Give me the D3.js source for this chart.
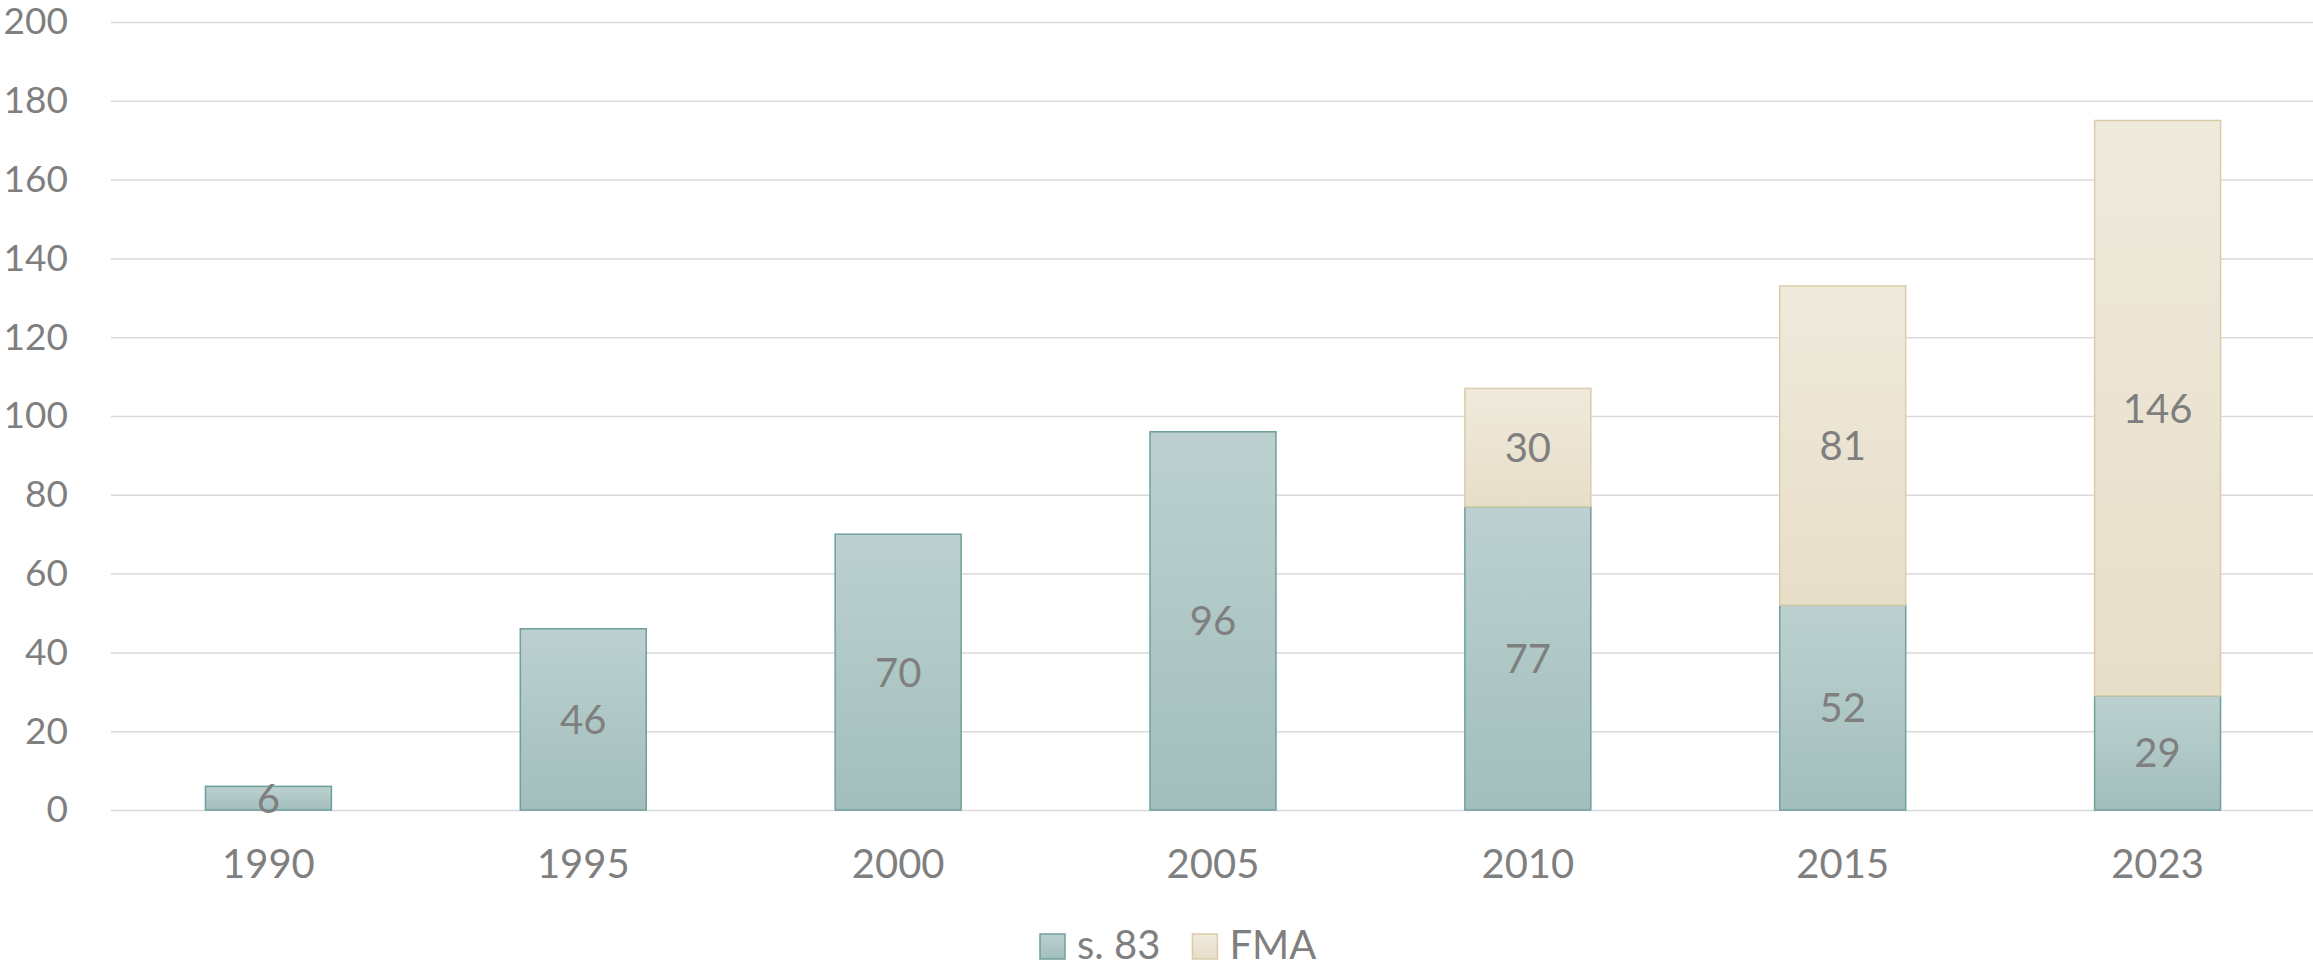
<!DOCTYPE html>
<html>
<head>
<meta charset="utf-8">
<script src="https://cdn.jsdelivr.net/npm/d3@7"></script>
<style>
  body { margin: 0; background: #fff; }
  text { font-family: Lato, "Open Sans", sans-serif; fill: #7f7f7f; }
</style>
</head>
<body>
<svg id="chart" width="2313" height="965"></svg>
<script>
const years = ['1990', '1995', '2000', '2005', '2010', '2015', '2023'];
const s83 = [6, 46, 70, 96, 77, 52, 29];
const fma = [0, 0, 0, 0, 30, 81, 146];
const yTicks = [0, 20, 40, 60, 80, 100, 120, 140, 160, 180, 200];
const seriesNames = ['s. 83', 'FMA'];

const svg = d3.select('#chart');
let margins = { 'left': 111, 'top': 22, 'bottom': 155, 'right': -2 };
let chartWidth = svg.attr('width') - margins.left - margins.right;
let chartHeight = svg.attr('height') - margins.top - margins.bottom;

const x = d3.scaleBand().domain(years).range([0, chartWidth]).paddingInner(0.6).paddingOuter(0.3);
const y = d3.scaleLinear().domain([0, 200]).range([chartHeight, 0]);

// gradients, one per series
const defs = svg.append('defs');
const fills = [
  { id: 'gS83', top: '#bcd1cf', bottom: '#a2bebd', stroke: '#6f9f9d' },
  { id: 'gFMA', top: '#f0eadd', bottom: '#e7dec8', stroke: '#d9cca8' }
];
fills.forEach(f => {
  let g = defs.append('linearGradient').attr('id', f.id)
    .attr('x1', 0).attr('y1', 0).attr('x2', 0).attr('y2', 1);
  g.append('stop').attr('offset', '0%').attr('stop-color', f.top);
  g.append('stop').attr('offset', '100%').attr('stop-color', f.bottom);
});

let chartArea = svg.append('g').attr('transform', `translate(${margins.left},${margins.top})`);

// gridlines
chartArea.append('g')
  .call(d3.axisLeft(y).tickValues(yTicks).tickSize(-chartWidth).tickFormat(''))
  .call(g => g.select('.domain').remove())
  .call(g => g.selectAll('line').attr('stroke', '#d9d9d9').attr('stroke-width', 1.5));

// y labels
chartArea.append('g')
  .call(d3.axisLeft(y).tickValues(yTicks).tickSize(0).tickPadding(43))
  .call(g => g.select('.domain').remove())
  .call(g => g.selectAll('text').style('font-size', '37px').attr('fill', '#7f7f7f'));

// x labels
chartArea.append('g')
  .attr('transform', `translate(0,${chartHeight})`)
  .call(d3.axisBottom(x).tickSize(0).tickPadding(40))
  .call(g => g.select('.domain').remove())
  .call(g => g.selectAll('text').style('font-size', '40px').attr('fill', '#7f7f7f'));

// stacked bars
const table = years.map((yr, i) => ({ year: yr, 's. 83': s83[i], 'FMA': fma[i] }));
const stacked = d3.stack().keys(seriesNames)(table);

stacked.forEach((layer, k) => {
  const f = fills[k];
  layer.forEach(d => {
    let v = d[1] - d[0];
    if (v <= 0) return;
    chartArea.append('rect')
      .attr('x', x(d.data.year))
      .attr('y', y(d[1]))
      .attr('width', x.bandwidth())
      .attr('height', y(d[0]) - y(d[1]))
      .attr('fill', `url(#${f.id})`)
      .attr('stroke', f.stroke)
      .attr('stroke-width', 1.5);
  });
});

// data labels
stacked.forEach(layer => {
  layer.forEach(d => {
    let v = d[1] - d[0];
    if (v <= 0) return;
    chartArea.append('text')
      .attr('x', x(d.data.year) + x.bandwidth() / 2)
      .attr('y', y((d[0] + d[1]) / 2))
      .attr('dy', '0.36em')
      .attr('text-anchor', 'middle')
      .style('font-size', '40px')
      .text(v);
  });
});

// legend
const legend = svg.append('g').attr('transform', 'translate(1040, 934)');
let lx = 0;
seriesNames.forEach((name, k) => {
  legend.append('rect')
    .attr('x', lx).attr('y', 0)
    .attr('width', 25).attr('height', 25)
    .attr('fill', `url(#${fills[k].id})`)
    .attr('stroke', fills[k].stroke)
    .attr('stroke-width', 1.5);
  let t = legend.append('text')
    .attr('x', lx + 37).attr('y', 25)
    .style('font-size', '40px')
    .text(name);
  lx += 37 + t.node().getComputedTextLength() + 32;
});
</script>
</body>
</html>
